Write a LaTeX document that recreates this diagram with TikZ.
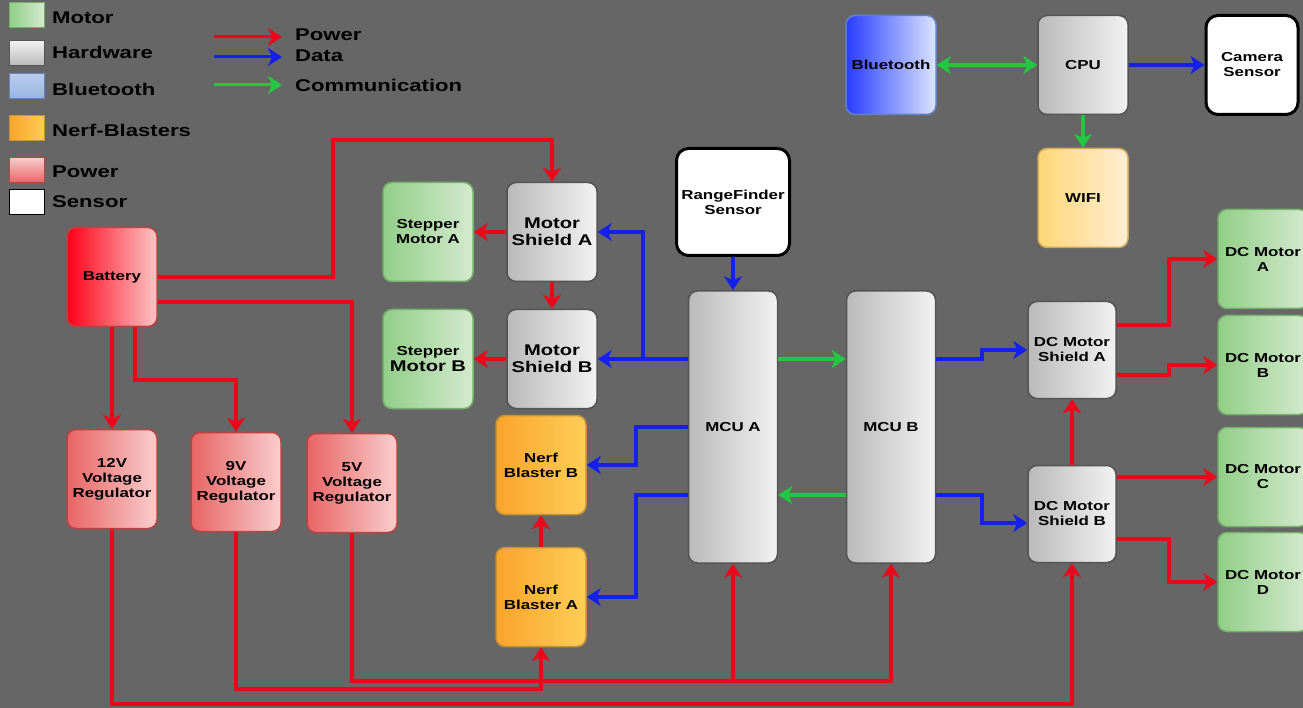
\documentclass[tikz,border=0pt]{standalone}
\usepackage{fontspec}
\newfontfamily\diagfont{Liberation Sans}[FakeStretch=1.3]
\usetikzlibrary{arrows.meta,calc}

\definecolor{bgGray}{RGB}{102,102,102}
\definecolor{pwrRed}{RGB}{236,6,26}
\definecolor{dataBlue}{RGB}{22,32,238}
\definecolor{commGreen}{RGB}{34,200,64}
\definecolor{hwL}{RGB}{186,186,186}
\definecolor{hwR}{RGB}{242,242,242}
\definecolor{hwEdge}{RGB}{84,84,84}
\definecolor{motL}{RGB}{146,206,136}
\definecolor{motR}{RGB}{212,234,206}
\definecolor{motEdge}{RGB}{116,176,106}
\definecolor{batL}{RGB}{255,0,24}
\definecolor{batR}{RGB}{250,198,198}
\definecolor{regL}{RGB}{232,100,100}
\definecolor{regR}{RGB}{250,206,206}
\definecolor{regEdge}{RGB}{188,66,66}
\definecolor{nerfL}{RGB}{250,164,44}
\definecolor{nerfR}{RGB}{255,206,86}
\definecolor{nerfEdge}{RGB}{196,146,56}
\definecolor{wifiL}{RGB}{255,214,118}
\definecolor{wifiR}{RGB}{255,238,212}
\definecolor{wifiEdge}{RGB}{204,168,88}
\definecolor{btL}{RGB}{40,60,255}
\definecolor{btR}{RGB}{220,230,255}
\definecolor{btEdge}{RGB}{100,130,200}
\definecolor{btKeyL}{RGB}{184,204,236}
\definecolor{btKeyR}{RGB}{150,182,224}

\begin{document}
\begin{tikzpicture}[x=1pt,y=-1pt,
    font=\diagfont\bfseries\fontsize{13}{15}\selectfont,
    block/.style={rounded corners=9pt, line width=1.5pt, minimum width=90pt,
      minimum height=99pt, align=center, text=black, inner sep=1pt},
    hw/.style={block, draw=hwEdge, left color=hwL, right color=hwR},
    motor/.style={block, draw=motEdge, left color=motL, right color=motR},
    reg/.style={block, draw=regEdge, left color=regL, right color=regR},
    nerf/.style={block, draw=nerfEdge, left color=nerfL, right color=nerfR},
    sensor/.style={block, draw=black, line width=3pt, fill=white, rounded corners=12pt},
    big/.style={font=\diagfont\bfseries\fontsize{15.5}{17}\selectfont},
    swatch/.style={minimum width=35pt, minimum height=25pt, inner sep=0pt, line width=1pt},
    keytext/.style={anchor=west, inner sep=0pt, font=\diagfont\bfseries\fontsize{17}{19}\selectfont},
    tip/.style={-{Stealth[length=14pt,width=18pt,inset=4pt]}},
    power/.style={draw=pwrRed, line width=4pt, tip},
    data/.style={draw=dataBlue, line width=4pt, tip},
    comm/.style={draw=commGreen, line width=4pt, tip}]

    \useasboundingbox (0,0) rectangle (1303,708);
    \fill[bgGray] (0,0) rectangle (1303,708);

    % legend: colour keys
    \node[swatch, draw=motEdge, left color=motL, right color=motR] (keyMotor) at (27,15.5) {};
    \node[swatch, draw=hwEdge, left color=hwR, right color=hwL, shading angle=0] (keyHw) at (27,53) {};
    \node[swatch, draw=btEdge, top color=btKeyL, bottom color=btKeyR] (keyBt) at (27,86.5) {};
    \node[swatch, draw=nerfEdge, left color=nerfL, right color=nerfR] (keyNerf) at (27,128) {};
    \node[swatch, draw=regEdge, top color=regR, bottom color=regL] (keyPwr) at (27,170) {};
    \node[swatch, draw=black, fill=white] (keySensor) at (27,202.5) {};

    \node[keytext] (lblMotor) at (52,18) {Motor};
    \node[keytext] (lblHw) at (52,52) {Hardware};
    \node[keytext] (lblBt) at (52,89) {Bluetooth};
    \node[keytext] (lblNerf) at (52,130) {Nerf-Blasters};
    \node[keytext] (lblPwr) at (52,172) {Power};
    \node[keytext] (lblSensor) at (52,202) {Sensor};

    % legend: connector keys
    \node[keytext] (lblPower) at (295,35) {Power};
    \node[keytext] (lblData) at (295,56) {Data};
    \node[keytext] (lblComm) at (295,85) {Communication};
    \coordinate (keyPowerA) at (214,37);
    \coordinate (keyDataA) at (214,57);
    \coordinate (keyCommA) at (214,85);
    \draw[power, line width=3pt] (keyPowerA) -- ($(keyPowerA -| lblPower.west)+(-13,0)$);
    \draw[data, line width=3pt] (keyDataA) -- ($(keyDataA -| lblData.west)+(-13,0)$);
    \draw[comm, line width=3pt] (keyCommA) -- ($(keyCommA -| lblComm.west)+(-13,0)$);

    % top right group
    \node[block, draw=btEdge, left color=btL, right color=btR] (bt) at (891,65) {Bluetooth};
    \node[hw] (cpu) at (1083,65) {CPU};
    \node[sensor, minimum width=92pt] (camera) at (1252,65) {Camera\\Sensor};
    \node[block, draw=wifiEdge, left color=wifiL, right color=wifiR] (wifi) at (1083,198) {WIFI};

    % motor shields
    \node[motor] (stepA) at (428,232) {Stepper\\Motor A};
    \node[hw, big] (mshA) at (552,232) {Motor\\Shield A};
    \node[motor] (stepB) at (428,359) {Stepper\\[1pt]{\fontsize{15.5}{17}\selectfont Motor B}};
    \node[hw, big] (mshB) at (552,359) {Motor\\Shield B};

    % controllers
    \node[sensor, minimum width=113pt, minimum height=107pt] (range) at (733,202) {RangeFinder\\Sensor};
    \node[hw, minimum width=89pt, minimum height=272pt] (mcuA) at (733,427) {MCU A};
    \node[hw, minimum width=89pt, minimum height=272pt] (mcuB) at (891,427) {MCU B};

    % blasters
    \node[nerf] (nerfB) at (541,465) {Nerf\\Blaster B};
    \node[nerf] (nerfA) at (541,597) {Nerf\\Blaster A};

    % power supply
    \node[block, draw=regEdge, left color=batL, right color=batR] (battery) at (112,277) {Battery};
    \node[reg] (reg12) at (112,479) {12V\\Voltage\\Regulator};
    \node[reg] (reg9) at (236,482) {9V\\Voltage\\Regulator};
    \node[reg] (reg5) at (352,483) {5V\\Voltage\\Regulator};

    % dc motors
    \node[hw, minimum width=88pt, minimum height=97pt] (dcsA) at (1072,350) {DC Motor\\Shield A};
    \node[hw, minimum width=88pt, minimum height=97pt] (dcsB) at (1072,514) {DC Motor\\Shield B};
    \node[motor] (dcA) at (1263,259) {DC Motor\\A};
    \node[motor] (dcB) at (1263,365) {DC Motor\\B};
    \node[motor] (dcC) at (1263,477) {DC Motor\\C};
    \node[motor] (dcD) at (1263,582) {DC Motor\\D};

    % power lines
    \draw[power] (battery.east) -- ++(175,0) -- ++(0,-137) -| (mshA.north);
    \draw[power] ($(battery.east)+(0,25)$) -| (reg5.north);
    \draw[power] (battery.south) -- (reg12.north);
    \draw[power] ($(battery.south)+(23,0)$) -- ++(0,53) -| (reg9.north);
    \draw[power] (mshA.south) -- (mshB.north);
    \draw[power] (mshA.west) -- (stepA.east);
    \draw[power] (mshB.west) -- (stepB.east);
    \draw[power] (reg12.south) -- ++(0,175) -| (dcsB.south);
    \draw[power] (reg9.south) -- ++(0,157) -| (nerfA.south);
    \draw[power] (reg5.south) -- ++(0,148) coordinate (rail5) -| (mcuB.south);
    \draw[power] (rail5 -| mcuA.south) -- (mcuA.south);
    \draw[power] (nerfA.north) -- (nerfB.south);
    \draw[power] (dcsB.north) -- (dcsA.south);
    \draw[power] ($(dcsA.east)+(0,-25)$) -- ++(52,0) |- (dcA.west);
    \draw[power] ($(dcsA.east)+(0,25)$) -- ++(52,0) |- (dcB.west);
    \draw[power] (dcC.west -| dcsB.east) -- (dcC.west);
    \draw[power] ($(dcsB.east)+(0,25)$) -- ++(52,0) |- (dcD.west);

    % data lines
    \draw[data] (range.south) -- (mcuA.north);
    \draw[data] ($(mcuA.west)+(0,-68)$) -- ++(-45,0) |- (mshA.east);
    \draw[data] ($(mcuA.west)+(0,-68)$) -- (mshB.east);
    \draw[data] (mcuA.west) -- ++(-52,0) |- (nerfB.east);
    \draw[data] ($(mcuA.west)+(0,68)$) -- ++(-52,0) |- (nerfA.east);
    \draw[data] ($(mcuB.east)+(0,-68)$) -- ++(46,0) |- (dcsA.west);
    \draw[data] ($(mcuB.east)+(0,68)$) -- ++(46,0) |- ($(dcsB.west)+(0,9)$);
    \draw[data] (cpu.east) -- (camera.west);

    % communication lines
    \draw[comm] ($(mcuA.east)+(0,-68)$) -- ($(mcuB.west)+(0,-68)$);
    \draw[comm] ($(mcuB.west)+(0,68)$) -- ($(mcuA.east)+(0,68)$);
    \draw[comm, {Stealth[length=14pt,width=18pt,inset=4pt]}-{Stealth[length=14pt,width=18pt,inset=4pt]}] (bt.east) -- (cpu.west);
    \draw[comm] (cpu.south) -- (wifi.north);
\end{tikzpicture}
\end{document}
